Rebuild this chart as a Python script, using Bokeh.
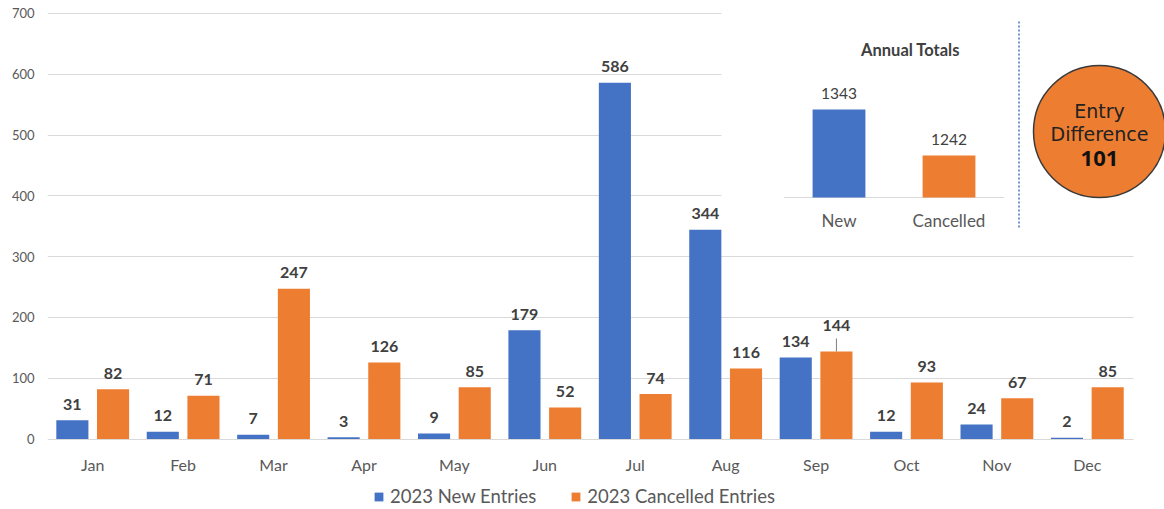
from bokeh.plotting import figure
from bokeh.models import ColumnDataSource, Range1d, FixedTicker, Legend, LegendItem
from bokeh.transform import dodge
from bokeh.core.properties import value
from bokeh.embed import file_html
from bokeh.resources import INLINE

# ---------------- data ----------------
months = ["Jan", "Feb", "Mar", "Apr", "May", "Jun", "Jul", "Aug", "Sep", "Oct", "Nov", "Dec"]
new_entries = [31, 12, 7, 3, 9, 179, 586, 344, 134, 12, 24, 2]
cancelled_entries = [82, 71, 247, 126, 85, 52, 74, 116, 144, 93, 67, 85]
y_ticks = [0, 100, 200, 300, 400, 500, 600, 700]
total_labels = ["New", "Cancelled"]
totals = [1343, 1242]
difference = 101

BLUE = "#4472C4"
ORANGE = "#ED7D31"
FONT = "Lato"

# ---------------- layout constants (pixels) ----------------
LEFT = 47
FRAME_W = 1117
FRAME_H = 509
PX_PER_CAT = 90.42
Y0_PX = 438.5          # pixel row of value 0
PX_PER_UNIT = 425.6 / 700

x_end = FRAME_W / PX_PER_CAT
y_start = -(FRAME_H - Y0_PX) / PX_PER_UNIT
y_end = Y0_PX / PX_PER_UNIT

p = figure(frame_width=FRAME_W, frame_height=FRAME_H,
           x_range=Range1d(0, x_end), y_range=Range1d(y_start, y_end),
           min_border_left=LEFT, min_border_right=0, min_border_top=0, min_border_bottom=0,
           output_backend="svg", toolbar_location=None)
p.outline_line_color = None
p.background_fill_color = "white"
p.border_fill_color = "white"

# inset ranges
INS_X0_PX = 783.5
INS_UNIT = 110.0
INS_BASE_PX = 197.0
INS_BASE = 1150.0
INS_K = 0.4554
p.extra_x_ranges = {
    "px": Range1d(LEFT, LEFT + FRAME_W),
    "ix": Range1d((LEFT - INS_X0_PX) / INS_UNIT, (LEFT + FRAME_W - INS_X0_PX) / INS_UNIT),
}
p.extra_y_ranges = {
    "py": Range1d(FRAME_H, 0),
    "iy": Range1d(INS_BASE - (FRAME_H - INS_BASE_PX) / INS_K, INS_BASE + INS_BASE_PX / INS_K),
}

# ---------------- axes / grid ----------------
xs = [i + 0.5 for i in range(len(months))]
p.xaxis.visible = False
p.yaxis.ticker = FixedTicker(ticks=y_ticks)
p.ygrid.ticker = FixedTicker(ticks=y_ticks)
p.xgrid.visible = False
p.ygrid.grid_line_color = "#D9D9D9"
p.ygrid.grid_line_width = 1
ax = p.yaxis[0]
ax.axis_line_color = None
ax.major_tick_line_color = None
ax.minor_tick_line_color = None
ax.major_tick_out = 0
ax.major_tick_in = 0
ax.minor_tick_out = 0
ax.major_label_text_color = "#595959"
ax.major_label_text_font = FONT
ax.major_label_text_font_size = "13px"
ax.major_label_standoff = 13

# white panel behind the inset (covers upper grid lines)
p.quad(left=[721, 1133], right=[1164, 1164], top=[0, 245], bottom=[245, 440],
       x_range_name="px", y_range_name="py", fill_color="white", line_color=None)

# ---------------- main bars ----------------
src = ColumnDataSource(dict(
    x=xs, month=months, zero=[0] * len(months), new=new_entries, canc=cancelled_entries,
    new_s=[str(v) for v in new_entries], canc_s=[str(v) for v in cancelled_entries],
    canc_off=[-26 if m == "Sep" else -16 for m in months],
))
W = 0.355
OFF = 0.225
r_new = p.vbar(x=dodge("x", -OFF), top="new", bottom=0, width=W, source=src,
               fill_color=BLUE, line_color=None)
r_canc = p.vbar(x=dodge("x", OFF), top="canc", bottom=0, width=W, source=src,
                fill_color=ORANGE, line_color=None)

lab = dict(text_font=value(FONT), text_font_style="bold", text_font_size="16px",
           text_color="#404040", text_align="center", text_baseline="middle")
p.text(x=dodge("x", -OFF), y="new", text="new_s", y_offset=-16, source=src, **lab)
p.text(x=dodge("x", OFF), y="canc", text="canc_s", y_offset="canc_off", source=src, **lab)

# month (category) labels
p.text(x="x", y="zero", text="month", y_offset=25, source=src, text_font=value(FONT),
       text_font_size="16px", text_color="#595959", text_align="center", text_baseline="middle")

# leader line for the displaced Sep label
sep = months.index("Sep")
p.segment(x0=[xs[sep] + OFF], x1=[xs[sep] + OFF],
          y0=[cancelled_entries[sep]], y1=[cancelled_entries[sep] + 13 / PX_PER_UNIT],
          line_color="#7F7F7F", line_width=1)

# ---------------- inset: annual totals ----------------
isrc = ColumnDataSource(dict(x=[0.5, 1.5], top=totals, lab=total_labels,
                             s=[str(v) for v in totals], color=[BLUE, ORANGE]))
p.segment(x0=[0], x1=[2], y0=[INS_BASE], y1=[INS_BASE], x_range_name="ix", y_range_name="iy",
          line_color="#D9D9D9", line_width=1)
p.vbar(x="x", top="top", bottom=INS_BASE, width=0.48, color="color", source=isrc,
       x_range_name="ix", y_range_name="iy", line_color=None)
p.text(x="x", y="top", text="s", source=isrc, x_range_name="ix", y_range_name="iy",
       y_offset=-16, text_font=value(FONT), text_font_size="15.5px", text_color="#404040",
       text_align="center", text_baseline="middle")
p.text(x="x", y=INS_BASE, text="lab", source=isrc, x_range_name="ix", y_range_name="iy",
       y_offset=23, text_font=value(FONT), text_font_size="17px", text_color="#595959",
       text_align="center", text_baseline="middle")
p.text(x=[910], y=[49], text=["Annual Totals"], x_range_name="px", y_range_name="py",
       text_font=value(FONT), text_font_style="bold", text_font_size="16.5px",
       text_color="#404040", text_align="center", text_baseline="middle")

# dotted divider
p.segment(x0=[1018.5], x1=[1018.5], y0=[21], y1=[228], x_range_name="px", y_range_name="py",
          line_color=BLUE, line_width=1.5, line_dash="2 2")

# difference bubble
p.scatter(x=[1099], y=[131], size=132, marker="circle", x_range_name="px", y_range_name="py",
          fill_color=ORANGE, line_color="#3A3A3A", line_width=1.5)
p.text(x=[1099, 1099], y=[110, 133], text=["Entry", "Difference"], x_range_name="px",
       y_range_name="py", text_font=value("DejaVu Sans"), text_font_size="19px",
       text_color="#222222", text_align="center", text_baseline="middle")
p.text(x=[1099], y=[158], text=[str(difference)], x_range_name="px", y_range_name="py",
       text_font=value("Noto Sans"), text_font_style="bold", text_font_size="22px",
       text_color="#111111", text_align="center", text_baseline="middle")

# ---------------- legend ----------------
legend = Legend(items=[LegendItem(label="2023 New Entries", renderers=[r_new]),
                       LegendItem(label="2023 Cancelled Entries", renderers=[r_canc])],
                orientation="horizontal", location=(326, 2),
                label_text_font=FONT, label_text_font_size="18.5px", label_text_color="#595959",
                glyph_width=11, glyph_height=11, spacing=34, label_standoff=6,
                border_line_color=None, background_fill_alpha=0, padding=0, margin=0)
p.add_layout(legend)

open("out.html", "w").write(file_html(p, INLINE))
